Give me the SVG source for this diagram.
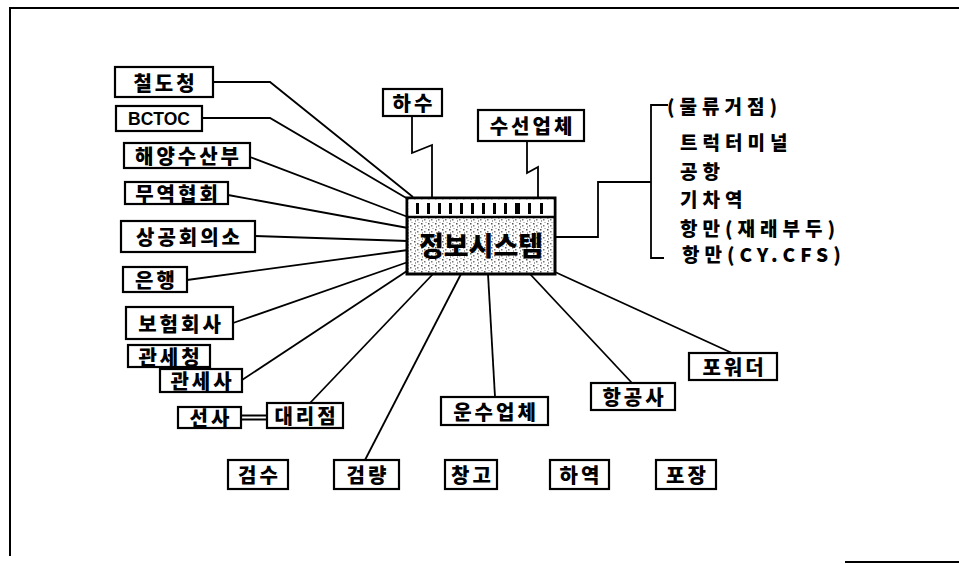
<svg xmlns="http://www.w3.org/2000/svg" width="959" height="564" viewBox="0 0 959 564">
<style>
.box{fill:#fff;stroke:#000;stroke-width:2.2}
.t{font-family:'Noto Sans CJK KR','Noto Sans',sans-serif;font-weight:900;font-size:20px;letter-spacing:3px;text-anchor:middle;dominant-baseline:central;fill:#000}
.r{font-family:'Noto Sans CJK KR','Noto Sans',sans-serif;font-weight:900;font-size:19px;letter-spacing:5px;dominant-baseline:central;fill:#000}
.c{fill:none;stroke:#000;stroke-width:1.8;stroke-linejoin:miter}
</style>
<defs>
<pattern id="noise" width="7" height="6" patternUnits="userSpaceOnUse">
<rect width="7" height="6" fill="#fff"/>
<rect x="1" y="1" width="1.5" height="1.5" fill="#555"/>
<rect x="4" y="3" width="1.5" height="1.5" fill="#777"/>
<rect x="2" y="4.5" width="1" height="1" fill="#444"/>
<rect x="5.5" y="0" width="1" height="1" fill="#888"/>
</pattern>
</defs>
<rect width="959" height="564" fill="#fff"/>
<g id="frame" fill="none" stroke="#000" stroke-width="2">
<path d="M10,556 V8 H959"/>
<path d="M845,562 H959"/>
</g>
<g id="connectors" class="c">
<path class="c" d="M213,82 H270 L413,197"/>
<path class="c" d="M202,118 H270 L408,199"/>
<path class="c" d="M250,157 L408,217"/>
<path class="c" d="M228,195 L408,228"/>
<path class="c" d="M255,236 L408,241"/>
<path class="c" d="M187,280 L408,250"/>
<path class="c" d="M233,323 L408,262"/>
<path class="c" d="M242,380 L410,269"/>
<path class="c" d="M310,403 L433,274"/>
<path class="c" d="M365,460 L461,274"/>
<path class="c" d="M495,397 L488,274"/>
<path class="c" d="M632,383 L530,274"/>
<path class="c" d="M732,353 L555,272"/>
<path class="c" d="M412,116 V153 L432,145 V198"/>
<path class="c" d="M527,141 V173 L538,167 V198"/>
<path class="c" d="M555,237 H598 V182 H651"/>
<path class="c" d="M668,105 H651 V258 H664"/>
<path class="c" d="M241,415.5 H267 M241,419.5 H267" stroke-width="1.5"/>
</g>
<g id="center">
<rect x="407" y="198" width="148" height="76" fill="url(#noise)" stroke="#000" stroke-width="3"/>
<rect x="408.5" y="199.5" width="145" height="17" fill="#fff"/>
<line x1="407" y1="217" x2="555" y2="217" stroke="#000" stroke-width="2.5"/>
<g fill="#000">
<rect x="416" y="203" width="3" height="11"/><rect x="427" y="203" width="3" height="11"/>
<rect x="438" y="203" width="3" height="11"/><rect x="449" y="203" width="3" height="11"/>
<rect x="460" y="203" width="3" height="11"/><rect x="471" y="203" width="3" height="11"/>
<rect x="482" y="203" width="3" height="11"/><rect x="493" y="203" width="3" height="11"/>
<rect x="504" y="203" width="3" height="11"/><rect x="515" y="203" width="5" height="11"/>
<rect x="528" y="203" width="3" height="11"/><rect x="540" y="203" width="3" height="11"/>
</g>
<text x="481" y="244" class="t" style="font-size:27px;letter-spacing:0px">정보시스템</text>
</g>
<g id="n1"><rect class="box" x="115" y="67" width="98" height="30"/><text class="t" x="165.5" y="82">철도청</text></g>
<g id="n2"><rect class="box" x="116" y="106" width="86" height="25"/><text x="159" y="119" font-family="'Liberation Sans',sans-serif" font-weight="700" font-size="18" text-anchor="middle" dominant-baseline="central" textLength="62" lengthAdjust="spacingAndGlyphs">BCTOC</text></g>
<g id="n3"><rect class="box" x="124" y="143" width="126" height="25"/><text class="t" x="188.5" y="155.5">해양수산부</text></g>
<g id="n4"><rect class="box" x="125" y="182" width="103" height="22"/><text class="t" x="178" y="193">무역협회</text></g>
<g id="n5"><rect class="box" x="121" y="221" width="134" height="31"/><text class="t" x="189.5" y="236.5">상공회의소</text></g>
<g id="n6"><rect class="box" x="123" y="267" width="64" height="25"/><text class="t" x="156.5" y="279.5">은행</text></g>
<g id="n7"><rect class="box" x="126" y="307" width="107" height="32"/><text class="t" x="181" y="323">보험회사</text></g>
<g id="n8"><rect class="box" x="128" y="345" width="82" height="22"/><text class="t" x="170.5" y="356">관세청</text></g>
<g id="n9"><rect class="box" x="160" y="369" width="82" height="23"/><text class="t" x="202.5" y="380.5">관세사</text></g>
<g id="n10"><rect class="box" x="178" y="407" width="63" height="21"/><text class="t" x="211" y="417.5">선사</text></g>
<g id="n11"><rect class="box" x="267" y="403" width="76" height="25"/><text class="t" x="306.5" y="415.5">대리점</text></g>
<g id="n12"><rect class="box" x="383" y="89" width="59" height="27"/><text class="t" x="414" y="102.5">하수</text></g>
<g id="n13"><rect class="box" x="478" y="110" width="106" height="31"/><text class="t" x="532.5" y="125.5">수선업체</text></g>
<g id="n14"><rect class="box" x="441" y="397" width="107" height="28"/><text class="t" x="496" y="411">운수업체</text></g>
<g id="n15"><rect class="box" x="591" y="383" width="84" height="27"/><text class="t" x="634.5" y="396.5">항공사</text></g>
<g id="n16"><rect class="box" x="689" y="353" width="88" height="27"/><text class="t" x="734.5" y="366.5">포워더</text></g>
<g id="n17"><rect class="box" x="228" y="460" width="60" height="29"/><text class="t" x="259.5" y="474.5">검수</text></g>
<g id="n18"><rect class="box" x="334" y="460" width="65" height="29"/><text class="t" x="368" y="474.5">검량</text></g>
<g id="n19"><rect class="box" x="445" y="460" width="52" height="29"/><text class="t" x="472.5" y="474.5">창고</text></g>
<g id="n20"><rect class="box" x="550" y="460" width="59" height="29"/><text class="t" x="581" y="474.5">하역</text></g>
<g id="n21"><rect class="box" x="656" y="460" width="60" height="29"/><text class="t" x="687.5" y="474.5">포장</text></g>
<g id="list">
<text class="r" x="667" y="105">(물류거점)</text>
<text class="r" x="680" y="141">트럭터미널</text>
<text class="r" x="680" y="170">공항</text>
<text class="r" x="680" y="198">기차역</text>
<text class="r" x="680" y="227">항만(재래부두)</text>
<text class="r" x="682" y="253">항만(CY.CFS)</text>
</g>
</svg>
